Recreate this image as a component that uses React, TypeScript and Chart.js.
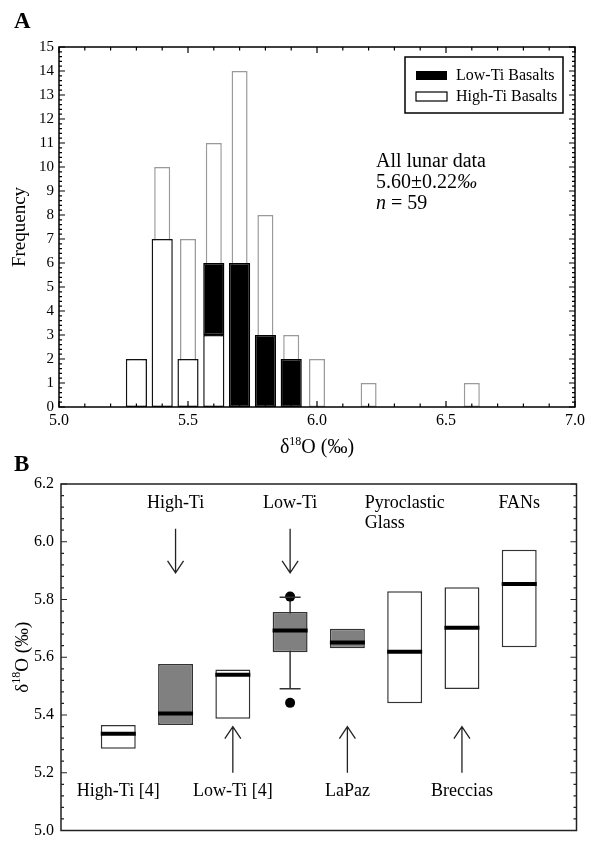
import React, { useEffect, useRef } from 'react';
import { Chart, registerables } from 'chart.js';

Chart.register(...registerables);

const FONT = "'Liberation Serif', 'Times New Roman', serif";

// ---------- Panel A: histogram ----------
const binLabels = ['5.0', '5.1', '5.2', '5.3', '5.4', '5.5', '5.6', '5.7', '5.8', '5.9', '6.0', '6.1', '6.2', '6.3', '6.4', '6.5', '6.6', '6.7', '6.8', '6.9', '7.0'];
const allLunarData = [null, null, null, 2, 10, 7, 11, 14, 8, 3, 2, null, 1, null, null, null, 1, null, null, null, null];
const highTiBasalts = [null, null, null, 2, 7, 2, 3, null, null, null, null, null, null, null, null, null, null, null, null, null, null];
const lowTiBasalts = [null, null, null, null, null, null, 3, 6, 3, 2, null, null, null, null, null, null, null, null, null, null, null];
const legendLabels = ['Low-Ti Basalts', 'High-Ti Basalts'];
const statsLines = ['All lunar data', '5.60±0.22', 'n = 59'];

// ---------- Panel B: box plots ----------
const groups = ['', 'High-Ti [4]', 'High-Ti', 'Low-Ti [4]', 'Low-Ti', 'LaPaz', 'Pyroclastic Glass', 'Breccias', 'FANs', ''];
const boxLow = [null, 5.283, 5.365, 5.387, 5.617, 5.631, 5.441, 5.49, 5.635, null];
const boxHigh = [null, 5.365, 5.577, 5.558, 5.757, 5.699, 5.829, 5.842, 5.972, null];
const boxMedian = [null, 5.335, 5.405, 5.539, 5.693, 5.651, 5.619, 5.702, 5.854, null];
const whiskerLow = [null, null, null, null, 5.491, null, null, null, null, null];
const whiskerHigh = [null, null, null, null, 5.808, null, null, null, null, null];
const outlierLow = [null, null, null, null, 5.442, null, null, null, null, null];
const outlierHigh = [null, null, null, null, 5.81, null, null, null, null, null];
const greyGroups = ['High-Ti', 'Low-Ti', 'LaPaz'];
const topLabels = [null, null, ['High-Ti'], null, ['Low-Ti'], null, ['Pyroclastic', 'Glass'], null, ['FANs'], null];
const bottomLabels = [null, 'High-Ti [4]', null, 'Low-Ti [4]', null, 'LaPaz', null, 'Breccias', null, null];
const downArrows = [false, false, true, false, true, false, false, false, false, false];
const upArrows = [false, false, false, true, false, true, false, true, false, false];

function drawDeltaTitle(ctx: CanvasRenderingContext2D, cx: number, cy: number, size: number, rotate: boolean) {
  ctx.save();
  ctx.translate(cx, cy);
  if (rotate) ctx.rotate(-Math.PI / 2);
  ctx.fillStyle = '#000';
  ctx.textBaseline = 'alphabetic';
  ctx.textAlign = 'left';
  const big = `${size}px ${FONT}`;
  const small = `${Math.round(size * 0.62)}px ${FONT}`;
  ctx.font = big;
  const w1 = ctx.measureText('δ').width;
  const w3 = ctx.measureText('O (‰)').width;
  ctx.font = small;
  const w2 = ctx.measureText('18').width;
  const total = w1 + w2 + w3;
  let x = -total / 2;
  const base = size * 0.35;
  ctx.font = big;
  ctx.fillText('δ', x, base);
  x += w1;
  ctx.font = small;
  ctx.fillText('18', x, base - size * 0.38);
  x += w2;
  ctx.font = big;
  ctx.fillText('O (‰)', x, base);
  ctx.restore();
}

function drawArrow(ctx: CanvasRenderingContext2D, x: number, y0: number, y1: number) {
  const dir = y1 > y0 ? 1 : -1;
  ctx.save();
  ctx.strokeStyle = '#222';
  ctx.lineWidth = 1.3;
  ctx.beginPath();
  ctx.moveTo(x, y0);
  ctx.lineTo(x, y1);
  ctx.moveTo(x - 8, y1 - dir * 12);
  ctx.lineTo(x, y1);
  ctx.lineTo(x + 8, y1 - dir * 12);
  ctx.stroke();
  ctx.restore();
}

const panelAPlugin = {
  id: 'panelA',
  afterDraw(chart: any) {
    const { ctx, chartArea: a, scales } = chart;
    const xs = scales.x;
    const ys = scales.y;
    ctx.save();
    // frame
    ctx.strokeStyle = '#000';
    ctx.lineWidth = 1.5;
    ctx.strokeRect(a.left, a.top, a.right - a.left, a.bottom - a.top);
    // x ticks (bottom & top, inward)
    ctx.lineWidth = 1.2;
    ctx.beginPath();
    for (let i = 0; i < binLabels.length; i++) {
      const px = xs.getPixelForValue(i);
      const len = i % 5 === 0 ? 6 : 3.5;
      ctx.moveTo(px, a.bottom);
      ctx.lineTo(px, a.bottom - len);
      ctx.moveTo(px, a.top);
      ctx.lineTo(px, a.top + len);
    }
    // y ticks (left & right, inward)
    for (let k = 0; k <= 75; k++) {
      const py = ys.getPixelForValue(k * 0.2);
      const len = k % 5 === 0 ? 6 : 3;
      ctx.moveTo(a.left, py);
      ctx.lineTo(a.left + len, py);
      ctx.moveTo(a.right, py);
      ctx.lineTo(a.right - len, py);
    }
    ctx.stroke();

    // Panel letter
    ctx.fillStyle = '#000';
    ctx.font = `bold 23px ${FONT}`;
    ctx.textAlign = 'left';
    ctx.textBaseline = 'alphabetic';
    ctx.fillText('A', 14, 28);

    // y title
    ctx.save();
    ctx.translate(20, (a.top + a.bottom) / 2);
    ctx.rotate(-Math.PI / 2);
    ctx.font = `19px ${FONT}`;
    ctx.textAlign = 'center';
    ctx.textBaseline = 'middle';
    ctx.fillText('Frequency', 0, 0);
    ctx.restore();

    // x title
    drawDeltaTitle(ctx, (a.left + a.right) / 2, 446, 20, false);

    // legend
    const bx = a.right - 170;
    const by = a.top + 10;
    ctx.lineWidth = 1.5;
    ctx.strokeStyle = '#000';
    ctx.strokeRect(bx, by, 158, 56);
    ctx.fillStyle = '#000';
    ctx.fillRect(bx + 11, by + 14, 31, 9);
    ctx.fillStyle = '#fff';
    ctx.lineWidth = 1.2;
    ctx.fillRect(bx + 11, by + 35, 31, 9);
    ctx.strokeRect(bx + 11, by + 35, 31, 9);
    ctx.fillStyle = '#000';
    ctx.font = `16px ${FONT}`;
    ctx.textAlign = 'left';
    ctx.textBaseline = 'middle';
    ctx.fillText(legendLabels[0], bx + 51, by + 19);
    ctx.fillText(legendLabels[1], bx + 51, by + 40);

    // stats annotation
    const tx = 376;
    ctx.textBaseline = 'alphabetic';
    ctx.font = `20px ${FONT}`;
    ctx.fillText(statsLines[0], tx, 167);
    ctx.fillText(statsLines[1], tx, 188);
    const w = ctx.measureText(statsLines[1]).width;
    ctx.font = `italic 20px ${FONT}`;
    ctx.fillText('‰', tx + w, 188);
    ctx.fillText('n', tx, 209);
    const wn = ctx.measureText('n').width;
    ctx.font = `20px ${FONT}`;
    ctx.fillText(statsLines[2].slice(1), tx + wn, 209);
    ctx.restore();
  },
};

const panelBPlugin = {
  id: 'panelB',
  afterDraw(chart: any) {
    const { ctx, chartArea: a, scales } = chart;
    const xs = scales.x;
    const ys = scales.y;
    ctx.save();
    ctx.strokeStyle = '#222';
    ctx.lineWidth = 1.5;
    ctx.strokeRect(a.left, a.top, a.right - a.left, a.bottom - a.top);
    ctx.lineWidth = 1.2;
    ctx.beginPath();
    for (let k = 0; k <= 30; k++) {
      const py = ys.getPixelForValue(5 + k * 0.04);
      const len = k % 5 === 0 ? 6 : 3;
      ctx.moveTo(a.left, py);
      ctx.lineTo(a.left + len, py);
      ctx.moveTo(a.right, py);
      ctx.lineTo(a.right - len, py);
    }
    ctx.stroke();

    ctx.fillStyle = '#000';
    ctx.font = `bold 23px ${FONT}`;
    ctx.textAlign = 'left';
    ctx.textBaseline = 'alphabetic';
    ctx.fillText('B', 14, 31);

    drawDeltaTitle(ctx, 21, ys.getPixelForValue(5.6), 19, true);

    // annotations
    ctx.font = `18px ${FONT}`;
    ctx.textBaseline = 'middle';
    ctx.fillStyle = '#000';
    for (let i = 0; i < groups.length; i++) {
      const px = xs.getPixelForValue(i);
      const tl = topLabels[i];
      if (tl) {
        ctx.textAlign = 'center';
        ctx.fillText(tl[0], px, ys.getPixelForValue(6.134));
        if (tl[1]) {
          const w0 = ctx.measureText(tl[0]).width;
          ctx.textAlign = 'left';
          ctx.fillText(tl[1], px - w0 / 2, ys.getPixelForValue(6.064));
        }
      }
      const bl = bottomLabels[i];
      if (bl) {
        ctx.textAlign = 'center';
        ctx.fillText(bl, px, ys.getPixelForValue(5.136));
      }
      if (downArrows[i]) drawArrow(ctx, px, ys.getPixelForValue(6.045), ys.getPixelForValue(5.892));
      if (upArrows[i]) drawArrow(ctx, px, ys.getPixelForValue(5.2), ys.getPixelForValue(5.36));
    }
    ctx.restore();
  },
};

export default function App() {
  const refA = useRef<HTMLCanvasElement | null>(null);
  const refB = useRef<HTMLCanvasElement | null>(null);

  useEffect(() => {
    const tickFont = { family: FONT, size: 16 };
    const chartA = new Chart(refA.current as HTMLCanvasElement, {
      type: 'bar',
      data: {
        labels: binLabels,
        datasets: [
          {
            label: legendLabels[1],
            data: highTiBasalts,
            backgroundColor: '#fff',
            borderColor: '#111',
            borderWidth: 1.5,
            borderSkipped: false,
            stack: 'ti',
            grouped: false,
            categoryPercentage: 1,
            barPercentage: 0.82,
            order: 0,
          },
          {
            label: legendLabels[0],
            data: lowTiBasalts,
            backgroundColor: '#000',
            borderColor: '#000',
            borderWidth: 1.5,
            borderSkipped: false,
            stack: 'ti',
            grouped: false,
            categoryPercentage: 1,
            barPercentage: 0.82,
            order: 0,
          },
          {
            label: statsLines[0],
            data: allLunarData,
            backgroundColor: '#fff',
            borderColor: '#9a9a9a',
            borderWidth: 1.5,
            borderSkipped: false,
            stack: 'all',
            grouped: false,
            categoryPercentage: 1,
            barPercentage: 0.62,
            order: 1,
          },
        ] as any,
      },
      options: {
        responsive: false,
        animation: false,
        devicePixelRatio: 1,
        layout: { padding: { left: 0, right: 23, top: 47, bottom: 0 } },
        plugins: { legend: { display: false }, tooltip: { enabled: false } },
        scales: {
          x: {
            type: 'category',
            offset: false,
            grid: { display: false, drawTicks: false },
            border: { display: false },
            ticks: {
              autoSkip: false,
              maxRotation: 0,
              padding: 4,
              color: '#000',
              font: tickFont,
              callback: (_v: any, i: number) => (i % 5 === 0 ? binLabels[i] : ''),
            },
            afterFit: (s: any) => {
              s.height = 63;
            },
          },
          y: {
            stacked: true,
            min: 0,
            max: 15,
            grid: { display: false, drawTicks: false },
            border: { display: false },
            ticks: { stepSize: 1, padding: 5, color: '#000', font: { family: FONT, size: 15 } },
            afterFit: (s: any) => {
              s.width = 59;
            },
          },
        } as any,
      },
      plugins: [panelAPlugin],
    });

    const boxFill = groups.map((g) => (greyGroups.includes(g) ? '#808080' : '#fff'));
    const chartB = new Chart(refB.current as HTMLCanvasElement, {
      type: 'bar',
      data: {
        labels: groups,
        datasets: [
          {
            type: 'line',
            label: 'Median',
            data: boxMedian,
            showLine: false,
            pointStyle: 'line',
            pointRadius: 17.5,
            pointBorderWidth: 4,
            pointBorderColor: '#000',
            order: 0,
          },
          {
            type: 'line',
            label: 'Whisker high',
            data: whiskerHigh,
            showLine: false,
            pointStyle: 'line',
            pointRadius: 10.5,
            pointBorderWidth: 1.5,
            pointBorderColor: '#333',
            order: 0,
          },
          {
            type: 'line',
            label: 'Whisker low',
            data: whiskerLow,
            showLine: false,
            pointStyle: 'line',
            pointRadius: 10.5,
            pointBorderWidth: 1.5,
            pointBorderColor: '#333',
            order: 0,
          },
          {
            type: 'line',
            label: 'Outlier high',
            data: outlierHigh,
            showLine: false,
            pointStyle: 'circle',
            pointRadius: 5,
            pointBackgroundColor: '#000',
            pointBorderColor: '#000',
            pointBorderWidth: 0,
            order: 0,
          },
          {
            type: 'line',
            label: 'Outlier low',
            data: outlierLow,
            showLine: false,
            pointStyle: 'circle',
            pointRadius: 5,
            pointBackgroundColor: '#000',
            pointBorderColor: '#000',
            pointBorderWidth: 0,
            order: 0,
          },
          {
            type: 'bar',
            label: 'Box',
            data: boxLow.map((l, i) => (l == null ? null : [l, boxHigh[i]])),
            backgroundColor: boxFill,
            borderColor: '#333',
            borderWidth: 1.5,
            borderSkipped: false,
            grouped: false,
            categoryPercentage: 1,
            barPercentage: 0.61,
            order: 2,
          },
          {
            type: 'bar',
            label: 'Whisker',
            data: whiskerLow.map((l, i) => (l == null ? null : [l, whiskerHigh[i]])),
            backgroundColor: '#333',
            borderWidth: 0,
            grouped: false,
            categoryPercentage: 1,
            barPercentage: 0.026,
            order: 3,
          },
        ] as any,
      },
      options: {
        responsive: false,
        animation: false,
        devicePixelRatio: 1,
        layout: { padding: { left: 0, right: 21, top: 44, bottom: 6 } },
        plugins: { legend: { display: false }, tooltip: { enabled: false } },
        scales: {
          x: { type: 'category', offset: false, display: false },
          y: {
            min: 5.0,
            max: 6.2,
            grid: { display: false, drawTicks: false },
            border: { display: false },
            ticks: {
              stepSize: 0.2,
              padding: 7,
              color: '#000',
              font: { family: FONT, size: 16 },
              callback: (v: any) => Number(v).toFixed(1),
            },
            afterFit: (s: any) => {
              s.width = 61;
            },
          },
        } as any,
      },
      plugins: [panelBPlugin],
    });

    return () => {
      chartA.destroy();
      chartB.destroy();
    };
  }, []);

  return (
    <div style={{ position: 'fixed', left: 0, top: 0, width: 598, height: 852, background: '#fff' }}>
      <canvas ref={refA} width={598} height={470} style={{ position: 'absolute', left: 0, top: 0, width: 598, height: 470 }} />
      <canvas ref={refB} width={598} height={412} style={{ position: 'absolute', left: 0, top: 440, width: 598, height: 412 }} />
    </div>
  );
}
